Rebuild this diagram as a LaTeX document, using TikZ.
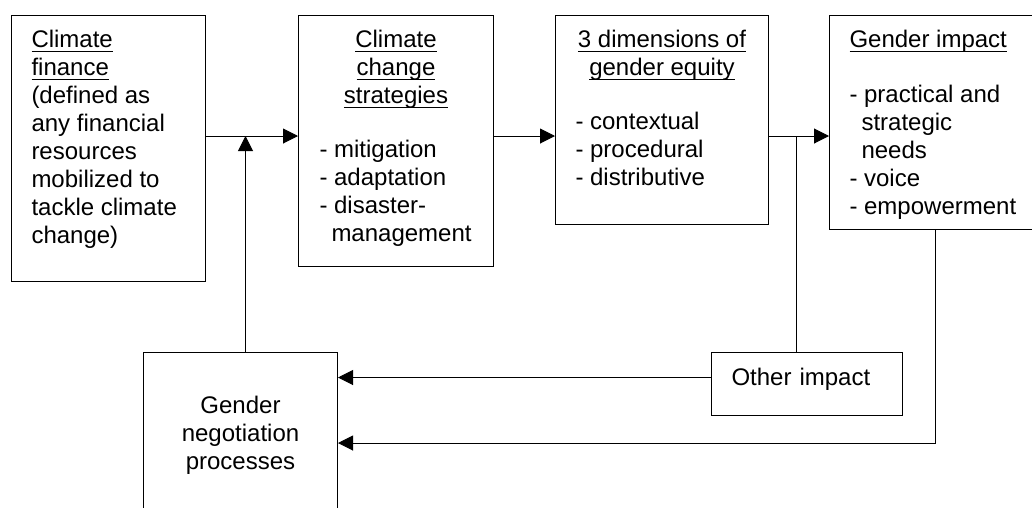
\documentclass[tikz,border=0pt]{standalone}
\usepackage{fontspec}
\setmainfont{Liberation Sans}
\usetikzlibrary{positioning,arrows.meta}
\newcommand{\ulx}[1]{\leavevmode\setbox0\hbox{#1}\rlap{\rule[-4.5pt]{\wd0}{1.2pt}}\box0}
\tikzstyle{blk}=[draw, line width=1pt, inner sep=0pt, anchor=north west]
\tikzstyle{txt}=[inner sep=0pt, font=\fontsize{24}{28}\selectfont]

\begin{document}
\begin{tikzpicture}[x=1pt,y=-1pt,>={Triangle[length=15pt,width=15pt]},line width=1pt]
\useasboundingbox (0,0) rectangle (1032,507);
\clip (0,0) rectangle (1032,507);

% top row
\node[blk, minimum width=194pt, minimum height=266pt] at (11,15) (fin) {};
\node[blk, minimum width=195pt, minimum height=251pt] at (298,15) (str) {};
\node[blk, minimum width=213pt, minimum height=209pt] at (555,15) (eq) {};
\node[blk, minimum width=211pt, minimum height=214pt] at (829,15) (imp) {};

\node[txt, align=left, below right=12.4pt and 20pt of fin.north west] (fintxt) {\strut\ulx{Climate}\\ \ulx{finance}\\ (defined as\\ any financial\\ resources\\ mobilized to\\ tackle climate\\ change)};

\node[txt, align=center, below=12.4pt of str.north] (strhd) {\strut\ulx{Climate}\\ \ulx{change}\\ \ulx{strategies}};
\node[txt, align=left, below right=122.4pt and 21pt of str.north west] (strls) {\strut- mitigation\\ - adaptation\\ - disaster-\\ \hspace*{12pt}management};

\node[txt, align=center, below=12.4pt of eq.north] (eqhd) {\strut\ulx{3 dimensions of}\\ \ulx{gender equity}};
\node[txt, align=left, below right=94.4pt and 20pt of eq.north west] (eqls) {\strut- contextual\\ - procedural\\ - distributive};

\node[txt, align=left, below right=12.4pt and 20pt of imp.north west] (imptxt) {\strut\ulx{Gender impact}\\[27pt] - practical and\\ \hspace*{12pt}strategic\\ \hspace*{12pt}needs\\ - voice\\ - empowerment};

% bottom row
\node[blk, txt, anchor=north west, minimum width=194pt, minimum height=166.8pt, align=center] at (143,352) (neg) {\strut Gender\\ negotiation\\ processes\strut};
\node[blk, txt, anchor=north west, text width=151pt, inner xsep=20pt, align=left, text height=32.5pt, text depth=30.5pt] at (711,352) (oth) {Other impact};

\coordinate (row) at (0,136);
\coordinate (low) at (0,443);
\draw[->] (fin.east |- row) -- (str.west |- row);
\draw[->] (str.east |- row) -- (eq.west |- row);
\draw[->] (eq.east |- row) -- (imp.west |- row);
\draw[->] ([xshift=5pt]neg.north) -- ([xshift=5pt]neg.north |- row);
\draw ([xshift=-10.5pt]oth.north) -- ([xshift=-10.5pt]oth.north |- row);
\draw[->] ([yshift=6.5pt]oth.west) -- ([yshift=6.5pt]oth.west -| neg.east);
\draw[->] (imp.south) |- (neg.east |- low);
\end{tikzpicture}
\end{document}
